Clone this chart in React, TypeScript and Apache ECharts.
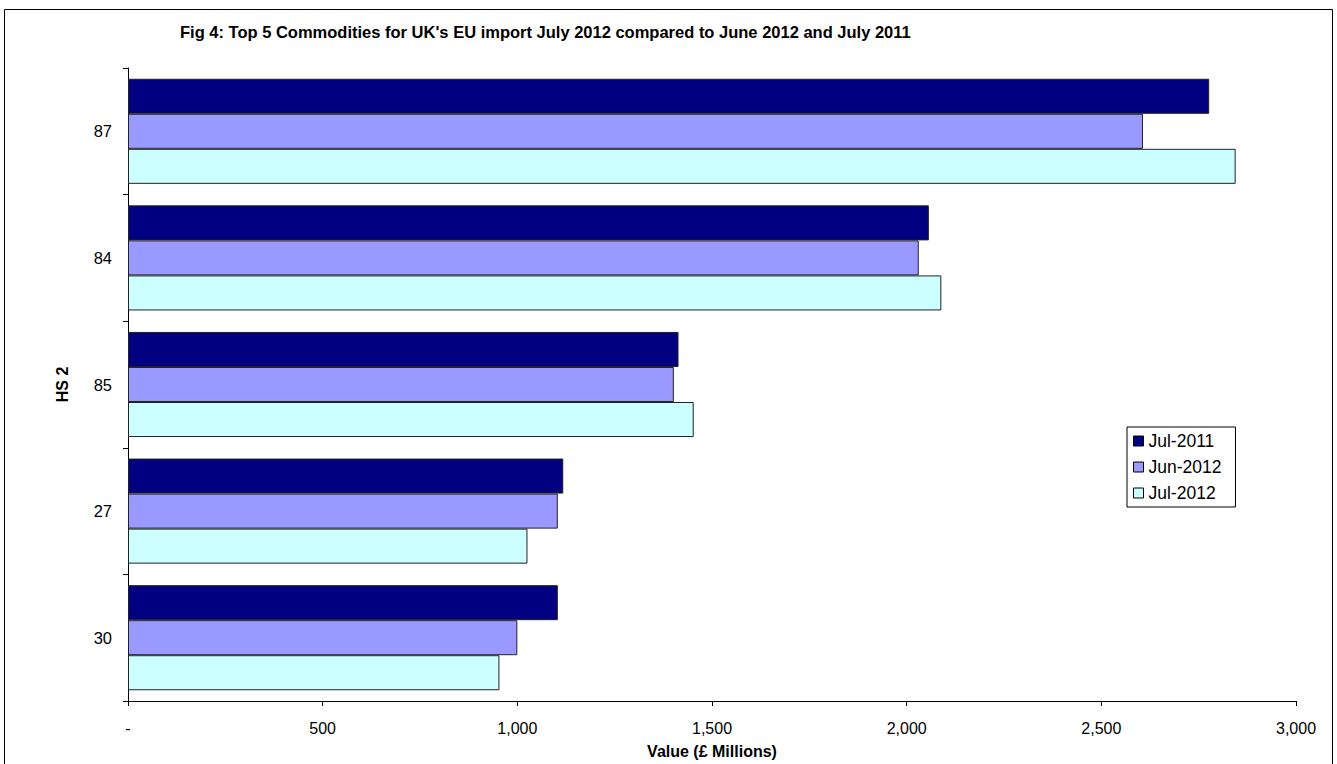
import React, { useEffect, useRef } from "react";
import * as echarts from "echarts";

const categories = ["87", "84", "85", "27", "30"];
const seriesNames = ["Jul-2011", "Jun-2012", "Jul-2012"];
const jul2011 = [2777, 2057, 1414, 1118, 1104];
const jun2012 = [2607, 2031, 1402, 1104, 1000];
const jul2012 = [2845, 2089, 1453, 1026, 954];
const colors = ["#000080", "#9999FF", "#CCFFFF"];

export default function App() {
  const ref = useRef<HTMLDivElement>(null);
  useEffect(() => {
    if (!ref.current) return;
    const chart = echarts.init(ref.current, undefined, { renderer: "svg" });
    const font = "Liberation Sans, Arial, sans-serif";
    const values = [jul2011, jun2012, jul2012];
    chart.setOption({
      animation: false,
      backgroundColor: "#ffffff",
      textStyle: { fontFamily: font },
      title: {
        text: "Fig 4: Top 5 Commodities for UK's EU import July 2012 compared to June 2012 and July 2011",
        left: 175,
        top: 18,
        textStyle: { fontFamily: font, fontSize: 16.5, fontWeight: "bold", color: "#000" },
      },
      graphic: [
        {
          type: "rect",
          shape: { x: 4.5, y: 9.5, width: 1328, height: 800 },
          style: { fill: "none", stroke: "#000", lineWidth: 1 },
          silent: true,
        },
      ],
      legend: {
        orient: "vertical",
        left: 1127,
        top: 427,
        data: seriesNames,
        icon: "rect",
        itemWidth: 10,
        itemHeight: 10,
        itemGap: 8,
        padding: [5, 14, 5, 6],
        borderColor: "#000",
        borderWidth: 1,
        textStyle: { fontFamily: font, fontSize: 17.5, color: "#000" },
        itemStyle: { borderColor: "#000", borderWidth: 1 },
      },
      grid: { left: 128, right: 41, top: 68, bottom: 60, containLabel: false },
      xAxis: {
        type: "value",
        min: 0,
        max: 3000,
        interval: 500,
        name: "Value (£ Millions)",
        nameLocation: "middle",
        nameGap: 42,
        nameTextStyle: { fontFamily: font, fontSize: 16, fontWeight: "bold", color: "#000" },
        axisLine: { show: true, lineStyle: { color: "#000", width: 1 } },
        axisTick: { show: true, length: 5, lineStyle: { color: "#000" } },
        axisLabel: {
          fontFamily: font,
          fontSize: 16,
          color: "#000",
          margin: 19,
          formatter: (v: number) => (v === 0 ? "-" : v.toLocaleString("en-US")),
        },
        splitLine: { show: false },
      },
      yAxis: {
        type: "category",
        data: categories,
        inverse: true,
        name: "HS 2",
        nameLocation: "middle",
        nameGap: 58,
        nameRotate: 90,
        nameTextStyle: { fontFamily: font, fontSize: 16, fontWeight: "bold", color: "#000" },
        axisLine: { show: true, lineStyle: { color: "#000", width: 1 } },
        axisTick: { show: true, length: 5, alignWithLabel: false, lineStyle: { color: "#000" } },
        axisLabel: { fontFamily: font, fontSize: 16.5, color: "#000", margin: 16 },
      },
      series: seriesNames.map((name, i) => ({
        name,
        type: "bar",
        data: values[i],
        barGap: "0%",
        barCategoryGap: "17%",
        itemStyle: { color: colors[i], borderColor: "#222", borderWidth: 1 },
      })),
    });
    return () => chart.dispose();
  }, []);
  return (
    <div
      ref={ref}
      style={{ position: "absolute", left: 0, top: 0, width: 1337, height: 764 }}
    />
  );
}
